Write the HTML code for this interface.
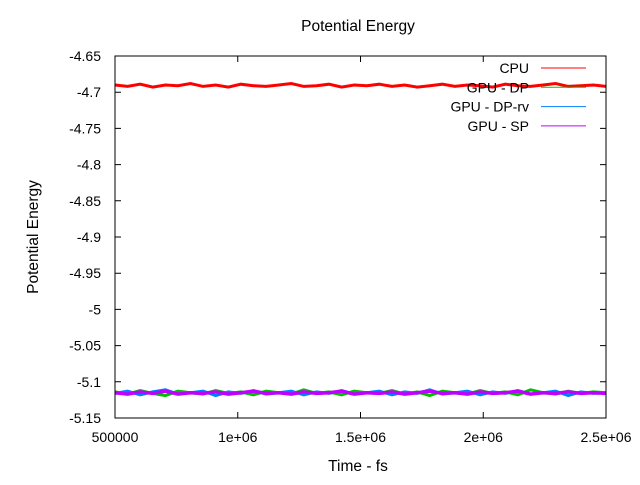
<!DOCTYPE html>
<html><head><meta charset="utf-8"><style>
body{margin:0;background:#fff;}
svg text{font-family:"Liberation Sans",sans-serif;font-size:14px;fill:#000;}
svg text.ttl{font-size:15.5px;}
</style></head><body>
<svg id="chart" width="640" height="480" viewBox="0 0 640 480" xmlns="http://www.w3.org/2000/svg">
<rect width="640" height="480" fill="#fff"/>
<g id="series"></g>
<rect x="115" y="56" width="491" height="362" fill="none" stroke="#000" stroke-width="1"/>
<g id="ticks"></g>
<text class="ttl" x="358" y="31" text-anchor="middle">Potential Energy</text>
<text class="ttl" x="358" y="471" text-anchor="middle">Time - fs</text>
<text class="ttl" transform="translate(38,237) rotate(-90)" text-anchor="middle">Potential Energy</text>
<g id="legend"></g>
</svg>
<script>
const xTicks=[500000,1000000,1500000,2000000,2500000];
const xTickLabels=["500000","1e+06","1.5e+06","2e+06","2.5e+06"];
const yTicks=[-4.65,-4.7,-4.75,-4.8,-4.85,-4.9,-4.95,-5,-5.05,-5.1,-5.15];
const yTickLabels=["-4.65","-4.7","-4.75","-4.8","-4.85","-4.9","-4.95","-5","-5.05","-5.1","-5.15"];
const seriesNames=["CPU","GPU - DP","GPU - DP-rv","GPU - SP"];
const seriesColors=["#ff0000","#00c000","#0080ff","#c000ff"];
const xStart=500000, xEnd=2500000;
const cpu=[-4.690,-4.692,-4.689,-4.693,-4.690,-4.691,-4.688,-4.692,-4.690,-4.693,-4.689,-4.691,-4.692,-4.690,-4.688,-4.692,-4.691,-4.689,-4.693,-4.690,-4.691,-4.689,-4.692,-4.690,-4.693,-4.691,-4.689,-4.692,-4.690,-4.691,-4.693,-4.689,-4.691,-4.692,-4.690,-4.688,-4.692,-4.691,-4.690,-4.692];
const gpuDp=[-5.114,-5.117,-5.112,-5.116,-5.119,-5.113,-5.115,-5.117,-5.112,-5.116,-5.114,-5.118,-5.113,-5.115,-5.117,-5.111,-5.116,-5.114,-5.118,-5.113,-5.115,-5.116,-5.112,-5.117,-5.114,-5.119,-5.113,-5.115,-5.117,-5.112,-5.116,-5.114,-5.118,-5.111,-5.115,-5.117,-5.113,-5.116,-5.114,-5.115];
const gpuDpRv=[-5.116,-5.113,-5.118,-5.114,-5.111,-5.117,-5.115,-5.113,-5.119,-5.114,-5.116,-5.112,-5.117,-5.115,-5.113,-5.118,-5.114,-5.116,-5.112,-5.117,-5.115,-5.113,-5.118,-5.114,-5.116,-5.111,-5.117,-5.115,-5.113,-5.118,-5.114,-5.116,-5.112,-5.117,-5.115,-5.113,-5.119,-5.114,-5.116,-5.115];
const gpuSp=[-5.115,-5.117,-5.114,-5.116,-5.113,-5.117,-5.115,-5.116,-5.114,-5.117,-5.115,-5.113,-5.116,-5.115,-5.117,-5.114,-5.116,-5.115,-5.113,-5.117,-5.115,-5.116,-5.114,-5.117,-5.115,-5.113,-5.116,-5.115,-5.117,-5.114,-5.116,-5.115,-5.113,-5.117,-5.115,-5.116,-5.114,-5.116,-5.115,-5.116];
const allSeries=[cpu,gpuDp,gpuDpRv,gpuSp];
const NS="http://www.w3.org/2000/svg";
const L=115,R=606,T=56,B=418;
function xs(v){return L+(v-xStart)/(xEnd-xStart)*(R-L);}
function ys(v){return T+(yTicks[0]-v)/(yTicks[0]-yTicks[yTicks.length-1])*(B-T);}
function mk(tag,attrs,parent){const e=document.createElementNS(NS,tag);for(const k in attrs)e.setAttribute(k,attrs[k]);parent.appendChild(e);return e;}
const tg=document.getElementById('ticks');
xTicks.forEach((v,i)=>{const x=xs(v);
 const t=mk('path',{d:`M${x},${B}v-6M${x},${T}v6`,stroke:'#000'},tg);
 
 
 const lb=mk('text',{x:x,y:442,'text-anchor':'middle'},tg);lb.textContent=xTickLabels[i];
 
 
});
yTicks.forEach((v,i)=>{const y=ys(v);
 const t=mk('path',{d:`M${L},${y}h6M${R},${y}h-6`,stroke:'#000'},tg);
 
 
 const lb=mk('text',{x:101,y:y+5,'text-anchor':'end'},tg);lb.textContent=yTickLabels[i];
 
 
});
const sg=document.getElementById('series');
allSeries.forEach((arr,si)=>{
 const pts=arr.map((v,i)=>`${xs(xStart+i/(arr.length-1)*(xEnd-xStart)).toFixed(1)},${ys(v).toFixed(1)}`).join(' ');
 const p=mk('polyline',{points:pts,fill:'none',stroke:seriesColors[si],'stroke-width':si===3?3.5:3},sg);
 
 
});
const lg=document.getElementById('legend');
seriesNames.forEach((n,i)=>{const y=68+i*19.3;
 const t=mk('text',{x:529,y:y+5,'text-anchor':'end'},lg);t.textContent=n;
 
 
 const l=mk('line',{x1:541,x2:586,y1:y,y2:y,stroke:seriesColors[i]},lg);
 
 
});
</script>
</body></html>
